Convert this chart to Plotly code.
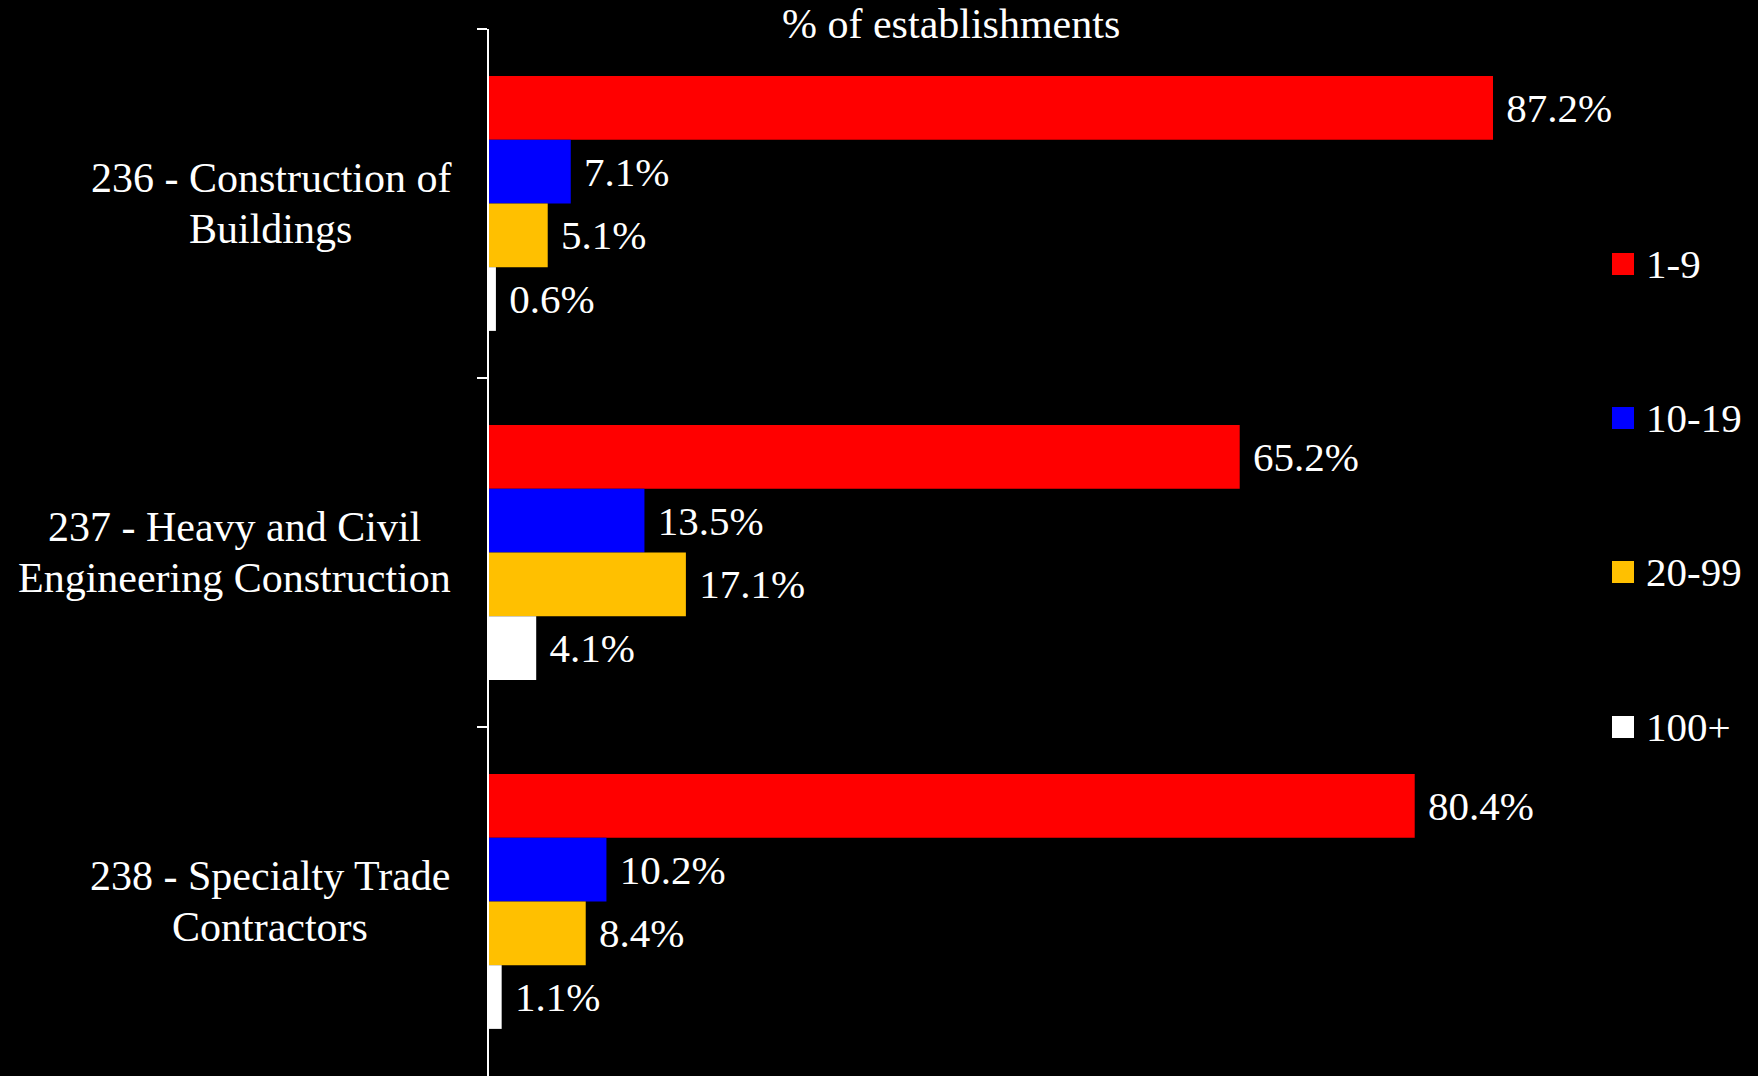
import plotly.graph_objects as go

categories = ["236 - Construction of<br>Buildings",
              "237 - Heavy and Civil<br>Engineering Construction",
              "238 - Specialty Trade<br>Contractors"]
size_classes = ["1-9", "10-19", "20-99", "100+"]
values_1_9 = [87.2, 65.2, 80.4]
values_10_19 = [7.1, 13.5, 10.2]
values_20_99 = [5.1, 17.1, 8.4]
values_100p = [0.6, 4.1, 1.1]
colors = ["#FF0000", "#0000FF", "#FFC000", "#FFFFFF"]
title_text = "% of establishments"

FONT = "Liberation Serif, Times New Roman, serif"
FS = 42

# Times/Liberation Serif advance widths (per 1000 em) used to centre label lines
_TW = {" ": 250, "-": 333, "C": 667, "B": 667, "H": 722, "E": 611, "S": 556, "T": 611,
       "a": 444, "b": 500, "c": 444, "d": 500, "e": 444, "f": 333, "g": 500, "h": 500,
       "i": 278, "j": 278, "k": 500, "l": 278, "m": 778, "n": 500, "o": 500, "p": 500,
       "q": 500, "r": 333, "s": 389, "t": 278, "u": 500, "v": 500, "w": 722, "x": 500,
       "y": 500, "z": 444}


def text_width(s, size):
    return sum(_TW.get(ch, 500) for ch in s) * size / 1000.0


series = [values_1_9, values_10_19, values_20_99, values_100p]
cat_ids = ["c0", "c1", "c2"]

fig = go.Figure()
for name, vals, col in zip(size_classes, series, colors):
    fig.add_trace(go.Bar(
        y=cat_ids, x=vals, name=name, orientation="h",
        marker=dict(color=col, line=dict(width=0)),
        texttemplate="\u00a0%{x:.1f}%", textposition="outside",
        textfont=dict(color="white", size=FS - 1, family=FONT),
        constraintext="none", cliponaxis=False, showlegend=False,
    ))

L, R, T, B = 489, 117, 29, 0
W, H = 1758, 1076
pw, ph = W - L - R, H - T - B
xmax = 87.2 * pw / (1493 - L)

annotations = []
label_gap = 38      # px between label block right edge and axis
line_step = 51      # px between label lines
for cid, lab in zip(cat_ids, categories):
    lines = lab.split("<br>")
    n = len(lines)
    maxw = max(text_width(ln, FS) for ln in lines)
    cx = -(label_gap + maxw / 2) / pw
    for i, ln in enumerate(lines):
        annotations.append(dict(
            x=cx, xref="paper", y=cid, yref="y", text=ln,
            xanchor="center", yanchor="middle", align="center", showarrow=False,
            yshift=((n - 1) / 2 - i) * line_step,
            font=dict(color="white", size=FS, family=FONT)))

annotations.append(dict(
    x=(951 - L) / pw, xref="paper", y=1 + (T - 24) / ph, yref="paper",
    text=title_text, xanchor="center", yanchor="middle", showarrow=False,
    font=dict(color="white", size=FS, family=FONT)))

shapes = []
legend_y = [264, 418, 572, 727]
for name, col, ypx in zip(size_classes, colors, legend_y):
    yc = (H - B - ypx) / ph
    half = 11 / ph
    shapes.append(dict(type="rect", xref="paper", yref="paper",
                       x0=(1612 - L) / pw, x1=(1634 - L) / pw,
                       y0=yc - half, y1=yc + half,
                       fillcolor=col, line=dict(width=0)))
    annotations.append(dict(
        x=(1644 - L) / pw, xref="paper", y=yc, yref="paper", text=name,
        xanchor="left", yanchor="middle", showarrow=False,
        font=dict(color="white", size=FS - 1, family=FONT)))

fig.update_layout(
    width=W, height=H,
    margin=dict(l=L, r=R, t=T, b=B, pad=0),
    paper_bgcolor="black", plot_bgcolor="black",
    barmode="group", bargap=0.27, bargroupgap=0,
    font=dict(family=FONT, color="white", size=FS),
    annotations=annotations, shapes=shapes,
    xaxis=dict(range=[0, xmax], visible=False, showgrid=False, zeroline=False),
    yaxis=dict(type="category", categoryorder="array", categoryarray=cat_ids,
               autorange="reversed", showticklabels=False,
               showline=True, linecolor="white", linewidth=1.5,
               ticks="outside", tickson="boundaries", ticklen=10,
               tickcolor="white", tickwidth=1.5, showgrid=False, zeroline=False),
)

fig.write_html("out.html", config={"displayModeBar": False},
               post_script="document.body.style.margin='0';document.body.style.overflow='hidden';")
